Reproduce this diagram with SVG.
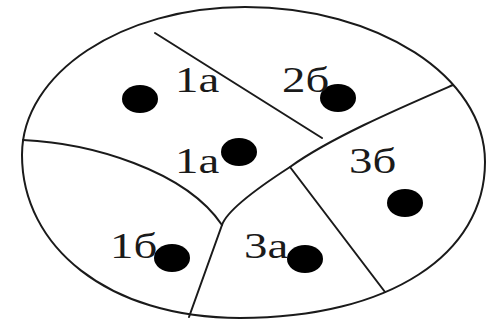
<svg xmlns="http://www.w3.org/2000/svg" width="487" height="324" viewBox="0 0 487 324">
<style>
.ln{fill:none;stroke:#1a1a1a;stroke-width:2;stroke-linecap:round;stroke-linejoin:round}
.dot{fill:#000}
.lb{font-family:"Liberation Serif","Times New Roman",serif;font-size:36px;fill:#1a1a1a}
</style>
<rect width="487" height="324" fill="#fff"/>
<g id="outline">
<path class="ln" d="M245,7 C377.6,7 485,76.4 485,162 C485,254 390,318 240,318 C107,318 22,246 22,155 C22,73 122,7 245,7 Z"/>
</g>
<g id="dividers">
<path class="ln" d="M155,33 L322,138"/>
<path class="ln" d="M453,85 C400,108 330,138 290,167 Q228,207 222,225 L189,317"/>
<path class="ln" d="M23,140 C90,143 185,170 222,225"/>
<path class="ln" d="M290,167 L385,292"/>
</g>
<g id="zone-1a-top">
<ellipse class="dot" cx="140" cy="99" rx="18" ry="14"/>
<text class="lb" transform="translate(175,92) scale(1.3,1)">1a</text>
</g>
<g id="zone-2b">
<ellipse class="dot" cx="338" cy="98" rx="18" ry="14"/>
<text class="lb" transform="translate(282,92) scale(1.3,1)">2б</text>
</g>
<g id="zone-1a-mid">
<ellipse class="dot" cx="239" cy="152" rx="18" ry="14"/>
<text class="lb" transform="translate(175,173) scale(1.3,1)">1a</text>
</g>
<g id="zone-3b">
<ellipse class="dot" cx="405" cy="203" rx="18" ry="14"/>
<text class="lb" transform="translate(349,173) scale(1.3,1)">3б</text>
</g>
<g id="zone-1b">
<ellipse class="dot" cx="172" cy="258" rx="18" ry="14"/>
<text class="lb" transform="translate(110,258) scale(1.3,1)">1б</text>
</g>
<g id="zone-3a">
<ellipse class="dot" cx="305" cy="259" rx="18" ry="14"/>
<text class="lb" transform="translate(244,258) scale(1.3,1)">3a</text>
</g>
</svg>
